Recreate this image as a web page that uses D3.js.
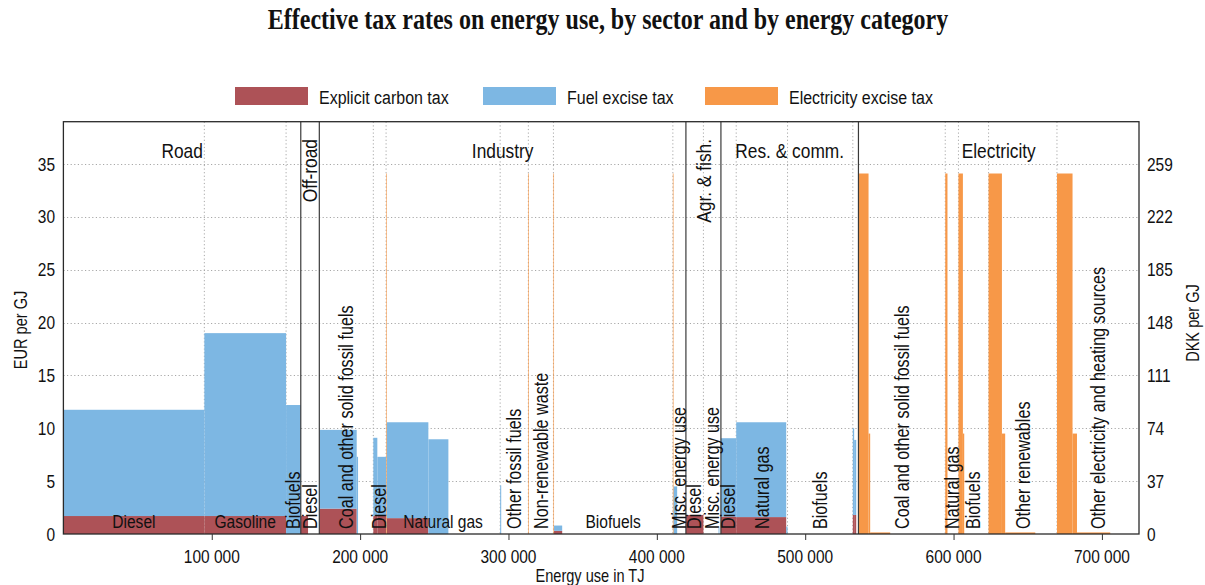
<!DOCTYPE html>
<html><head><meta charset="utf-8">
<script src="https://cdn.jsdelivr.net/npm/d3@7"></script>
<style>
body{margin:0;background:#fff}
svg{display:block}
text{font-family:"Liberation Sans",Arial,Helvetica,sans-serif;fill:#111}
</style>
</head><body>
<svg id="chart" width="1205" height="585"></svg>
<script>
// ---------------- DATA ----------------
const titleText = "Effective tax rates on energy use, by sector and by energy category";
const seriesNames = ["Explicit carbon tax", "Fuel excise tax", "Electricity excise tax"];
const sectors = ["Road", "Off-road", "Industry", "Agr. & fish.", "Res. & comm.", "Electricity"];
const categories = ["Diesel", "Gasoline", "Biofuels", "Diesel", "Coal and other solid fossil fuels", "Diesel",
  "Natural gas", "Other fossil fuels", "Non-renewable waste", "Biofuels", "Misc. energy use",
  "Diesel", "Misc. energy use", "Diesel", "Natural gas", "Biofuels", "",
  "Coal and other solid fossil fuels", "Natural gas", "Biofuels", "Other renewables",
  "Other electricity and heating sources"];
const categorySector = [0,0,0,1,2,2,2,2,2,2,2,3,3,4,4,4,4,5,5,5,5,5];
// energy segments (TJ) and tax rates (EUR per GJ)
const segCategory = [0,1,2,3,3,4,4,4,5,5,6,6,6,6,7,7,8,8,9,9,9,10,10,10,11,12,12,12,13,14,14,15,16,16,16,17,17,17,17,18,18,19,19,19,20,20,20,20,21,21,21,21];
const segEnergy = [95000,55100,9900,4900,7600,25200,900,10300,2700,5900,400,28100,13500,34900,700,18300,400,16500,400,5500,74600,400,2500,5900,11800,10200,600,1000,10300,33700,900,44000,900,1400,1500,6800,1100,13500,37100,1500,7400,3000,900,16400,9000,2200,20300,14600,10500,3000,22400,19400];
const segCarbon = [1.7,1.7,0,1.7,0,2.4,0,0,1.7,1.7,0,1.5,0,0,0,0,0,0,0,0.3,0,0,0,0,1.8,0,0,0,1.65,1.6,0,0,1.8,1.8,0,0,0,0,0,0,0,0,0,0,0,0,0,0,0,0,0,0];
const segFuel = [10.05,17.3,12.2,0,0,7.45,7.3,0,7.4,5.6,0,9.07,8.96,0,4.6,0,0,0,0,0.5,0,0,4.5,0,0,0,0.6,0,7.41,8.97,0.7,0,8.2,7.1,0,0,0,0,0,0,0,0,0,0,0,0,0,0,0,0,0,0];
const segElec = [0,0,0,0,0,0,0,0,0,0,34.1,0,0,0,0,0,34.1,0,34.1,0,0,34.1,0,0,0,0,0,0,0,0,0,0,0,0,0,34.1,9.5,0.15,0,34.1,0,34.1,9.5,0,34.1,9.5,0.15,0,34.1,9.5,0.15,0];
const xTicks = [100000,200000,300000,400000,500000,600000,700000];
const yTicks = [0,5,10,15,20,25,30,35];
const dkkTicks = [0,37,74,111,148,185,222,259];
const xMax = 725000, yMax = 39, dkkPerEur = 7.4;

// ---------------- LAYOUT ----------------
const colors = ["#ad5257", "#7db7e3", "#f79848"];
const KX = 0.833; // condensed type
const L = 63.4, R = 1139, T = 121.7, B = 534;
const svg = d3.select("#chart");
const x = d3.scaleLinear().domain([0, xMax]).range([L, R]);
const y = d3.scaleLinear().domain([0, yMax]).range([B, T]);
const yR = d3.scaleLinear().domain([0, yMax * dkkPerEur]).range([B, T]);

function htext(g, px, py, str, size, anchor, weight, family) {
  const t = g.append("text")
    .attr("transform", `translate(${px},${py}) scale(${KX},1)`)
    .attr("text-anchor", anchor || "middle")
    .style("font-size", size + "px")
    .text(str);
  if (weight) t.style("font-weight", weight);
  if (family) t.style("font-family", family);
  return t;
}
function vtext(g, px, py, str, size, anchor) {
  return g.append("text")
    .attr("transform", `translate(${px},${py}) rotate(-90) scale(${KX},1)`)
    .attr("text-anchor", anchor || "middle")
    .attr("dy", "0.35em")
    .style("font-size", size + "px")
    .text(str);
}

// segments table
const starts = [0, ...d3.cumsum(segEnergy)];
const segs = segEnergy.map((e, i) => ({
  i, start: starts[i], end: starts[i] + e, cat: segCategory[i],
  carbon: segCarbon[i], fuel: segFuel[i], elec: segElec[i]
}));
const layers = d3.stack().keys(["carbon", "fuel", "elec"])(segs);

// category and sector extents
const catExt = categories.map((c, ci) => {
  const s = segs.filter(d => d.cat === ci);
  return {name: c, sector: categorySector[ci], start: d3.min(s, d => d.start), end: d3.max(s, d => d.end)};
});
const secExt = sectors.map((s, si) => {
  const c = catExt.filter(d => d.sector === si);
  return {name: s, start: d3.min(c, d => d.start), end: d3.max(c, d => d.end)};
});
const secStarts = new Set(secExt.map(d => d.start));

// gridlines (horizontal at y ticks, vertical at category boundaries)
const grid = svg.append("g").attr("stroke", "#a8a8a8").attr("stroke-width", 1).attr("stroke-dasharray", "1.2,2.4");
grid.selectAll("line.h").data(yTicks.filter(v => v > 0)).join("line")
  .attr("x1", L).attr("x2", R).attr("y1", d => Math.round(y(d)) + 0.5).attr("y2", d => Math.round(y(d)) + 0.5);
grid.selectAll("line.v").data(catExt.filter(c => !secStarts.has(c.start))).join("line")
  .attr("y1", T).attr("y2", B).attr("x1", d => x(d.start)).attr("x2", d => x(d.start));

// bars
const bars = svg.append("g");
layers.forEach((layer, k) => {
  bars.append("g").attr("fill", colors[k])
    .selectAll("rect").data(layer.filter(d => d[1] - d[0] > 0)).join("rect")
    .attr("x", d => x(d.data.start))
    .attr("width", d => Math.max(0.6, x(d.data.end) - x(d.data.start)))
    .attr("y", d => y(d[1]))
    .attr("height", d => y(d[0]) - y(d[1]));
});

// sector separators
svg.append("g").attr("stroke", "#3a3a3a").attr("stroke-width", 1.2)
  .selectAll("line").data(secExt.slice(1)).join("line")
  .attr("x1", d => x(d.start)).attr("x2", d => x(d.start)).attr("y1", T).attr("y2", B);

// sector labels
const secG = svg.append("g");
secExt.forEach(s => {
  const cx = (x(s.start) + x(s.end)) / 2;
  const w = x(s.end) - x(s.start);
  const t = htext(secG, cx, 158, s.name, 20.8, "middle");
  const len = t.node().getComputedTextLength() * KX;
  if (len + 10 > w) {
    t.remove();
    vtext(secG, cx, 139, s.name, 20.8, "end");
  }
});

// category labels
const catG = svg.append("g");
catExt.forEach(c => {
  if (!c.name) return;
  const cx = (x(c.start) + x(c.end)) / 2;
  const w = x(c.end) - x(c.start);
  const t = htext(catG, cx, 528, c.name, 18.7, "middle");
  const len = t.node().getComputedTextLength() * KX;
  if (len + 16 > w) {
    t.remove();
    vtext(catG, cx, 529, c.name, 19.4, "start");
  }
});

// frame
svg.append("rect").attr("x", L).attr("y", T).attr("width", R - L).attr("height", B - T)
  .attr("fill", "none").attr("stroke", "#2a2a2a").attr("stroke-width", 1.3);

// axes
const fmt = d3.formatLocale({decimal: ".", thousands: " ", grouping: [3], currency: ["", ""]}).format(",");
const ax = svg.append("g").attr("transform", `translate(0,${B})`)
  .call(d3.axisBottom(x).tickValues(xTicks).tickFormat(fmt).tickSize(6).tickPadding(4));
ax.select(".domain").remove();
ax.selectAll("line").attr("stroke", "#333");
ax.selectAll("text").remove();
const axT = svg.append("g");
xTicks.forEach(v => htext(axT, x(v), 563, fmt(v), 18.6, "middle"));
yTicks.forEach(v => htext(axT, 55, y(v) + 6.6, String(v), 18.6, "end"));
dkkTicks.forEach(v => htext(axT, 1147, yR(v) + 6.6, String(v), 18.6, "start"));
vtext(axT, 21, 330, "EUR per GJ", 17.5, "middle");
vtext(axT, 1193, 323, "DKK per GJ", 17.5, "middle");
htext(axT, 590, 582, "Energy use in TJ", 17.5, "middle");

// legend
const legX = [235, 483, 705];
const leg = svg.append("g");
seriesNames.forEach((n, i) => {
  leg.append("rect").attr("x", legX[i]).attr("y", 87).attr("width", 73).attr("height", 18).attr("fill", colors[i]);
  htext(leg, legX[i] + 84, 103.5, n, 19.2, "start");
});

// title
const tt = svg.append("text")
  .attr("transform", "translate(608,29) scale(1,1.2)")
  .attr("text-anchor", "middle")
  .style("font-family", "'Liberation Serif','Times New Roman',serif")
  .style("font-weight", "bold").style("font-size", "19px")
  .text(titleText);
const tl = tt.node().getComputedTextLength();
tt.style("font-size", (19 * 680 / tl) + "px");
</script>
</body></html>
